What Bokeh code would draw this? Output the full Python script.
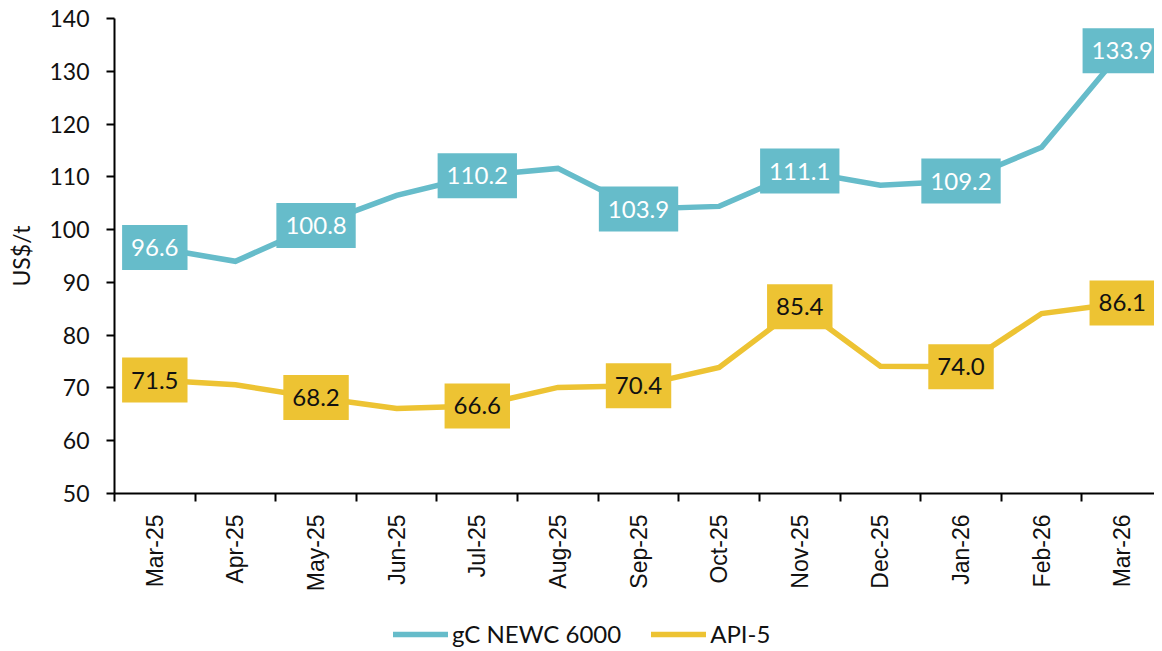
import math
from bokeh.plotting import figure
from bokeh.layouts import column
from bokeh.models import Range1d, FixedTicker, Legend, LegendItem, ColumnDataSource
from bokeh.core.properties import value
from bokeh.embed import file_html
from bokeh.resources import INLINE

months = ["Mar-25", "Apr-25", "May-25", "Jun-25", "Jul-25", "Aug-25", "Sep-25",
          "Oct-25", "Nov-25", "Dec-25", "Jan-26", "Feb-26", "Mar-26"]
newc = [96.6, 94.0, 100.8, 106.5, 110.2, 111.6, 103.9, 104.4, 111.1, 108.4, 109.2, 115.6, 133.9]
api5 = [71.5, 70.6, 68.2, 66.1, 66.6, 70.1, 70.4, 73.9, 85.4, 74.1, 74.0, 84.1, 86.1]
series_names = ["gC NEWC 6000", "API-5"]
label_idx = [0, 2, 4, 6, 8, 10, 12]

BLUE = "#66BCCA"
YELLOW = "#EDC333"
FONT = "Lato"

x = list(range(len(months)))

p = figure(width=1154, height=600, output_backend="svg", toolbar_location=None,
           x_range=Range1d(-0.5, 12.4), y_range=Range1d(50, 140),
           min_border_left=114, min_border_right=0, min_border_top=18, min_border_bottom=107)
p.outline_line_color = None
p.grid.grid_line_color = None
p.background_fill_color = "white"

r1 = p.line(x, newc, line_color=BLUE, line_width=5.5, line_join="miter")
r2 = p.line(x, api5, line_color=YELLOW, line_width=5.5, line_join="miter")

lab_x = [x[i] for i in label_idx]
src1 = ColumnDataSource(dict(x=lab_x, y=[newc[i] for i in label_idx],
                             t=["%.1f" % newc[i] for i in label_idx]))
src2 = ColumnDataSource(dict(x=lab_x, y=[api5[i] for i in label_idx],
                             t=["%.1f" % api5[i] for i in label_idx]))
pad = dict(left=9, right=9, top=14, bottom=14)
p.text(x="x", y="y", text="t", source=src1, text_align="center", text_baseline="middle",
       text_font=value(FONT), text_font_size="24px", text_color="white",
       background_fill_color=BLUE, padding=pad)
p.text(x="x", y="y", text="t", source=src2, text_align="center", text_baseline="middle",
       text_font=value(FONT), text_font_size="24px", text_color="#111111",
       background_fill_color=YELLOW, padding=pad)

# x axis
xa = p.xaxis[0]
xa.ticker = FixedTicker(ticks=x, minor_ticks=[i - 0.5 for i in range(len(months) + 1)])
xa.major_label_overrides = {i: m for i, m in enumerate(months)}
xa.major_label_orientation = math.pi / 2
xa.major_tick_out = 0
xa.major_tick_in = 0
xa.minor_tick_out = 8
xa.minor_tick_in = 0
xa.minor_tick_line_color = "black"
xa.minor_tick_line_width = 2
xa.axis_line_color = "black"
xa.axis_line_width = 2
xa.major_label_standoff = 13
xa.major_label_text_font = "Liberation Sans"
xa.major_label_text_font_size = "23px"
xa.major_label_text_color = "#111111"

# y axis
ya = p.yaxis[0]
ya.ticker = FixedTicker(ticks=list(range(50, 141, 10)))
ya.major_tick_out = 8
ya.major_tick_in = 0
ya.minor_tick_line_color = None
ya.major_tick_line_color = "black"
ya.major_tick_line_width = 2
ya.axis_line_color = "black"
ya.axis_line_width = 2
ya.major_label_standoff = 17
ya.major_label_text_font = FONT
ya.major_label_text_font_size = "23px"
ya.major_label_text_color = "#111111"
ya.axis_label = "US$/t"
ya.axis_label_text_font = FONT
ya.axis_label_text_font_size = "23px"
ya.axis_label_text_font_style = "normal"
ya.axis_label_text_color = "#111111"
ya.axis_label_standoff = 11

# legend in a small strip below the chart (frame aligned with the chart frame)
lg = figure(width=1154, height=48, output_backend="svg", toolbar_location=None,
            x_range=Range1d(0, 1), y_range=Range1d(0, 1),
            x_axis_location=None, y_axis_location=None,
            min_border=0, min_border_left=0, min_border_right=0,
            min_border_top=0, min_border_bottom=0)
lg.grid.grid_line_color = None
lg.outline_line_color = None
l1 = lg.line([5, 6], [5, 6], line_color=BLUE, line_width=5.5, line_cap="round")
l2 = lg.line([5, 6], [5, 6], line_color=YELLOW, line_width=5.5, line_cap="round")
legend = Legend(items=[LegendItem(label=series_names[0], renderers=[l1]),
                       LegendItem(label=series_names[1], renderers=[l2])],
                orientation="horizontal", location=(279, 0),
                border_line_color=None, background_fill_alpha=0,
                glyph_width=55, glyph_height=20, label_standoff=4, spacing=30,
                padding=0, margin=0,
                label_text_font=FONT, label_text_font_size="24px", label_text_color="#111111")
lg.add_layout(legend, "center")

layout = column(p, lg, spacing=0)
open("out.html", "w").write(file_html(layout, INLINE))
